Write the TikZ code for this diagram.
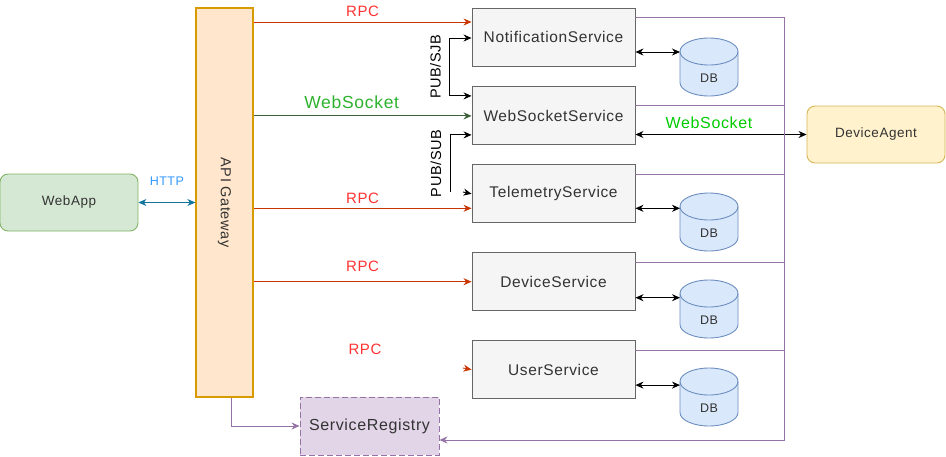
\documentclass[tikz,border=0pt]{standalone}
\usepackage{fontspec}
\setmainfont{Liberation Sans}[LetterSpace=4]
\usetikzlibrary{arrows.meta,positioning}

\definecolor{appfill}{HTML}{D5E8D4}
\definecolor{appline}{HTML}{82B366}
\definecolor{gatefill}{HTML}{FFE6CC}
\definecolor{gateline}{HTML}{D79B00}
\definecolor{svcfill}{HTML}{F5F5F5}
\definecolor{svcline}{HTML}{666666}
\definecolor{regfill}{HTML}{E1D5E7}
\definecolor{regline}{HTML}{9673A6}
\definecolor{dbfill}{HTML}{DAE8FC}
\definecolor{dbline}{HTML}{6C8EBF}
\definecolor{agentfill}{HTML}{FFF2CC}
\definecolor{agentline}{HTML}{D6B656}
\definecolor{rpcline}{HTML}{C73500}
\definecolor{rpctext}{HTML}{FF3333}
\definecolor{wsline}{HTML}{3A5F3A}
\definecolor{wstext}{HTML}{2DB22D}
\definecolor{wstexttwo}{HTML}{00CC00}
\definecolor{httpline}{HTML}{10739E}
\definecolor{httptext}{HTML}{3399FF}
\definecolor{txtgray}{HTML}{333333}

\begin{document}
\begin{tikzpicture}[x=1pt, y=-1pt, >={Stealth[length=8pt, width=7pt]}, line width=0.9pt, auto]

    \tikzstyle{svc} = [rectangle, minimum width=163pt, minimum height=58pt, fill=svcfill, draw=svcline, text=txtgray, font=\fontsize{15.5}{18}\selectfont]
    \tikzstyle{app} = [rectangle, rounded corners=8pt, minimum width=138pt, minimum height=57pt, text=txtgray, font=\fontsize{13.5}{16}\selectfont]
    \tikzstyle{gate} = [rectangle, minimum width=57pt, minimum height=389pt, fill=gatefill, draw=gateline, line width=1.3pt]
    \tikzstyle{regbox} = [rectangle, minimum width=139pt, minimum height=58pt, fill=regfill, draw=regline, dash pattern=on 6pt off 3pt, text=txtgray, font=\fontsize{16}{19}\selectfont]
    \tikzstyle{dbbox} = [rectangle, minimum width=58pt, minimum height=58pt, inner sep=0pt, outer sep=0pt]
    \tikzstyle{dbtext} = [yshift=-11.5pt, text=txtgray, font=\fontsize{12.5}{15}\selectfont]
    \tikzstyle{dbshape} = [fill=dbfill, draw=dbline]
    \tikzstyle{rpc} = [->, draw=rpcline]
    \tikzstyle{rpclabel} = [text=rpctext, font=\fontsize{15}{18}\selectfont]
    \tikzstyle{bus} = [draw=regline]
    \tikzstyle{pubsub} = [xshift=-5pt, rotate=90, anchor=south, font=\fontsize{14.5}{17}\selectfont]

    \useasboundingbox (0,0) rectangle (946,456);

    \node (notif)  [svc] at (553.5,37)              {NotificationService};
    \node (wss)    [svc, below=20pt of notif]       {WebSocketService};
    \node (telem)  [svc, below=19pt of wss]         {TelemetryService};
    \node (device) [svc, below=29pt of telem]       {DeviceService};
    \node (user)   [svc, below=29pt of device]      {UserService};

    \node (gateway) [gate, label={[rotate=-90, text=txtgray, font=\fontsize{14.5}{17}\selectfont]center:API Gateway}] at (224.5,202.5) {};
    \node (webapp)  [app, fill=appfill, draw=appline] at (69,202.5) {WebApp};
    \node (agent)   [app, fill=agentfill, draw=agentline] at (876,134.5) {DeviceAgent};
    \node (registry) [regbox] at (369.5,426) {ServiceRegistry};

    \node (db1) [dbbox] at (709,67) {};
    \node (db2) [dbbox] at (709,222) {};
    \node (db3) [dbbox] at (709,309) {};
    \node (db4) [dbbox] at (709,397) {};

    % cylinders
    \foreach \d in {db1,db2,db3,db4} {
        \draw[dbshape] ([yshift=-13.5pt]\d.north west) -- ([yshift=13.5pt]\d.south west)
            arc[start angle=180, end angle=360, x radius=29pt, y radius=13.5pt]
            -- ([yshift=-13.5pt]\d.north east)
            arc[start angle=0, end angle=180, x radius=29pt, y radius=13.5pt] -- cycle;
        \draw[draw=dbline] ([yshift=-13.5pt]\d.north west) arc[start angle=180, end angle=360, x radius=29pt, y radius=13.5pt];
        \node[dbtext] at (\d.center) {DB};
    }

    \coordinate (busTop) at (784,17);
    \coordinate (busBot) at (784,440);
    \coordinate (pubsubEnd) at (450,192);
    \coordinate (telemStub) at (463,192);
    \coordinate (userStub) at (463,368);

    % client side
    \draw[<->, draw=httpline] (webapp.east) -- node[above=13pt, text=httptext, font=\fontsize{12.5}{15}\selectfont] {HTTP} (gateway.west |- webapp.east);

    % gateway to services
    \draw[rpc] ([yshift=15pt]gateway.east |- notif.west) -- node[rpclabel, above=2pt] {RPC} ([yshift=15pt]notif.west);
    \draw[->, draw=wsline] (gateway.east |- wss.west) -- node[pos=0.45, above=3pt, text=wstext, font=\fontsize{17.5}{20}\selectfont] {WebSocket} (wss.west);
    \draw[rpc] ([yshift=-14.5pt]gateway.east |- telem.west) -- node[rpclabel, above=1pt] {RPC} ([yshift=-14.5pt]telem.west);
    \draw[rpc] (gateway.east |- device.west) -- node[rpclabel, above=6pt] {RPC} (device.west);
    \draw[rpc] (userStub) -- (user.west);
    \node[rpclabel] at (365,349) {RPC};

    % pub/sub
    \draw[<->] ([yshift=-1pt]notif.west) -- ++(-22pt,0) |- node[pubsub, pos=0.25] {PUB/SJB} ([yshift=20pt]wss.west);
    \draw[->] (pubsubEnd) |- node[pubsub, pos=0.25] {PUB/SUB} ([yshift=-19pt]wss.west);
    \draw[->] (telemStub) -- (telem.west);

    % databases
    \draw[<->] ([yshift=-15pt]notif.east) -- ([yshift=-15pt]notif.east -| db1.west);
    \draw[<->] ([yshift=-14.5pt]telem.east) -- ([yshift=-14.5pt]telem.east -| db2.west);
    \draw[<->] ([yshift=-16pt]device.east) -- ([yshift=-16pt]device.east -| db3.west);
    \draw[<->] ([yshift=-15.5pt]user.east) -- ([yshift=-15.5pt]user.east -| db4.west);

    % device agent
    \draw[<->] (wss.east |- agent.west) -- node[pos=0.43, above=2pt, text=wstexttwo, font=\fontsize{16}{19}\selectfont] {WebSocket} (agent.west);

    % registry
    \draw[->, bus] ([xshift=6.5pt]gateway.south) |- (registry.west);
    \draw[->, bus] ([yshift=20pt]notif.east) -- (busTop) -- (busBot) -- (registry.east |- busBot);
    \draw[bus] ([yshift=10pt]wss.east) -- ([yshift=10pt]wss.east -| busTop);
    \draw[bus] ([yshift=19.5pt]telem.east) -- ([yshift=19.5pt]telem.east -| busTop);
    \draw[bus] ([yshift=19pt]device.east) -- ([yshift=19pt]device.east -| busTop);
    \draw[bus] ([yshift=19.5pt]user.east) -- ([yshift=19.5pt]user.east -| busTop);
\end{tikzpicture}
\end{document}
